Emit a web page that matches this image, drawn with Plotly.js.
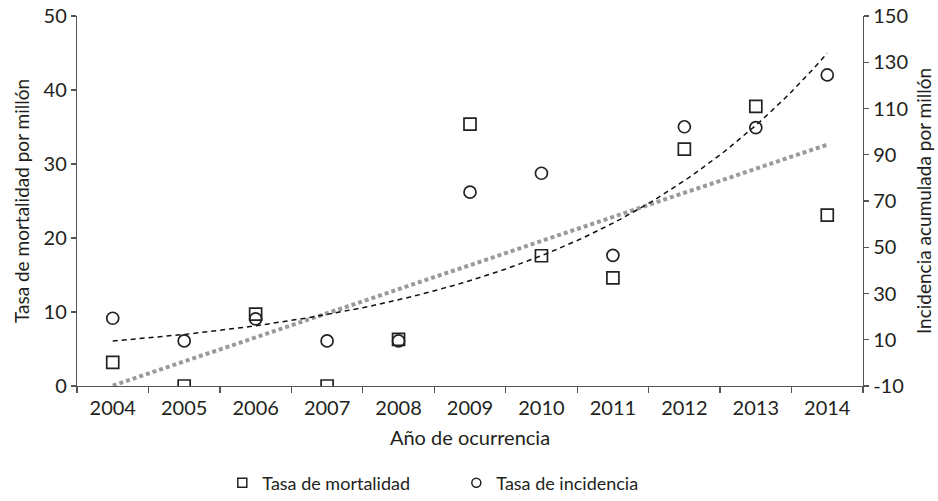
<!DOCTYPE html>
<html>
<head>
<meta charset="utf-8">
<script src="https://cdn.plot.ly/plotly-3.0.1.min.js"></script>
<style>html,body{margin:0;padding:0;background:#fff;}#chart{width:938px;height:501px;}</style>
</head>
<body>
<div id="chart"></div>
<script>
const years = [2004, 2005, 2006, 2007, 2008, 2009, 2010, 2011, 2012, 2013, 2014];
const mortalidad = [3.2, 0, 9.7, 0, 6.3, 35.4, 17.6, 14.6, 32.0, 37.8, 23.1];
const incidencia = [19.3, 9.5, 19.0, 9.5, 9.5, 73.8, 82.0, 46.5, 102.1, 101.7, 124.5];
const y2TickVals = [-10, 10, 30, 50, 70, 90, 110, 130, 150];
const y2TickText = ['-10', '10', '30', '50', '70', '90', '110', '130', '150'];

// Linear trend (mortality) and exponential trend (incidence), fitted from the data
function linFit(xs, ys) {
  const n = xs.length;
  const mx = xs.reduce((a, b) => a + b, 0) / n;
  const my = ys.reduce((a, b) => a + b, 0) / n;
  let sxy = 0, sxx = 0;
  for (let i = 0; i < n; i++) { sxy += (xs[i] - mx) * (ys[i] - my); sxx += (xs[i] - mx) ** 2; }
  const b = sxy / sxx;
  return { a: my - b * mx, b: b };
}
const idx = years.map((_, i) => i + 1);
const lf = linFit(idx, mortalidad);
const ef = linFit(idx, incidencia.map(v => Math.log(v)));
const trendX = [], linY = [], expY = [];
for (let t = 1; t <= years.length + 1e-9; t += 0.1) {
  trendX.push(years[0] + t - 1);
  linY.push(lf.a + lf.b * t);
  expY.push(Math.exp(ef.a + ef.b * t));
}

const FONT = 'Lato, "Open Sans", sans-serif';
const TXT = '#231f20';
const AX = '#555';
const MK = '#222';

const traces = [
  { x: trendX, y: linY, mode: 'lines', yaxis: 'y', showlegend: false, hoverinfo: 'skip',
    line: { color: '#9a9a9a', width: 4, dash: '4px,3px' } },
  { x: trendX, y: expY, mode: 'lines', yaxis: 'y2', showlegend: false, hoverinfo: 'skip',
    line: { color: '#111', width: 1.5, dash: '5px,4px' } },
  { x: years, y: mortalidad, mode: 'markers', name: 'Tasa de mortalidad', yaxis: 'y', showlegend: false,
    marker: { symbol: 'square-open', size: 12, color: MK, line: { width: 1.7, color: MK } } },
  { x: years, y: incidencia, mode: 'markers', name: 'Tasa de incidencia', yaxis: 'y2', showlegend: false,
    marker: { symbol: 'circle-open', size: 12, color: MK, line: { width: 1.7, color: MK } } },
  // legend entries (smaller symbols, as in the reference legend)
  { x: [null], y: [null], mode: 'markers', name: 'Tasa de mortalidad', yaxis: 'y',
    marker: { symbol: 'square-open', size: 9, color: MK, line: { width: 1.5, color: MK } } },
  { x: [null], y: [null], mode: 'markers', name: 'Tasa de incidencia', yaxis: 'y2',
    marker: { symbol: 'circle-open', size: 9, color: MK, line: { width: 1.5, color: MK } } }
];

const layout = {
  width: 938, height: 501,
  margin: { l: 77, r: 75, t: 16, b: 115 },
  paper_bgcolor: '#fff', plot_bgcolor: '#fff',
  font: { family: FONT, size: 18, color: TXT },
  showlegend: true,
  legend: { orientation: 'h', xref: 'container', x: 0.237, xanchor: 'left',
    yref: 'container', y: 0.036, yanchor: 'middle',
    entrywidth: 189, entrywidthmode: 'pixels', font: { size: 18, color: TXT }, itemwidth: 30 },
  xaxis: {
    automargin: false,
    range: [2003.5, 2014.5], tick0: 2004, dtick: 1, showgrid: false, zeroline: false,
    showline: true, linecolor: AX, linewidth: 1.2, ticks: '', ticklen: 0, ticklabelstandoff: 4,
    tickfont: { size: 20, color: TXT },
    minor: { tick0: 2003.5, dtick: 1, ticks: 'outside', ticklen: 6, tickcolor: AX, tickwidth: 1.2, showgrid: false },
    title: { text: 'Año de ocurrencia', font: { size: 20, color: TXT }, standoff: 12 }
  },
  yaxis: {
    automargin: false,
    range: [0, 50], dtick: 10, showgrid: false, zeroline: false,
    showline: true, linecolor: AX, linewidth: 1.2, ticks: 'outside', ticklen: 5, tickcolor: AX, tickwidth: 1.2,
    tickfont: { size: 20, color: TXT },
    title: { text: 'Tasa de mortalidad por millón', font: { size: 19, color: TXT }, standoff: 9 }
  },
  yaxis2: {
    automargin: false,
    range: [-10, 150], overlaying: 'y', side: 'right', anchor: 'x',
    tickmode: 'array', tickvals: y2TickVals, ticktext: y2TickText,
    showgrid: false, zeroline: false,
    showline: true, linecolor: AX, linewidth: 1.2, ticks: 'outside', ticklen: 5, tickcolor: AX, tickwidth: 1.2,
    tickfont: { size: 20, color: TXT },
    title: { text: 'Incidencia acumulada por millón', font: { size: 19, color: TXT }, standoff: 10 }
  }
};

Plotly.newPlot('chart', traces, layout, { displayModeBar: false, staticPlot: true });
</script>
</body>
</html>
